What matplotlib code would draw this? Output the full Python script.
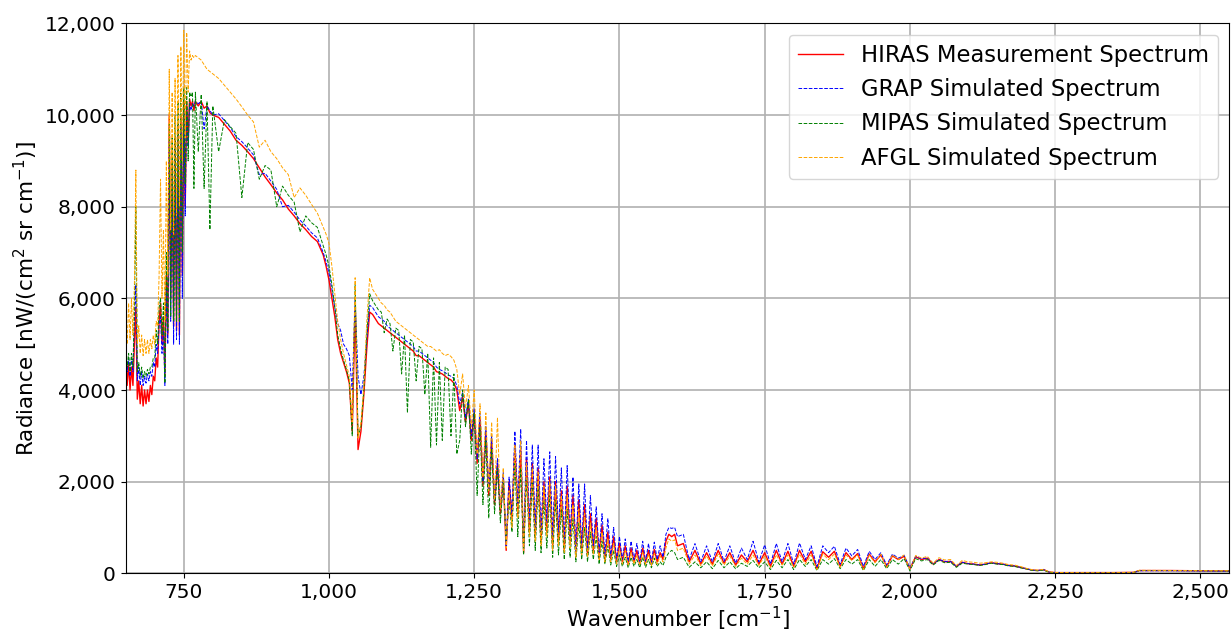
import numpy as np
import matplotlib
matplotlib.use('Agg')
import matplotlib.pyplot as plt
from matplotlib.ticker import FuncFormatter

# wavenumber grid [cm-1] (finer where the spectrum is busy)
wavenumber = np.concatenate([np.arange(650, 770.1, 2.5), np.arange(775, 801, 5),
                             np.arange(810, 991, 10),
                             np.arange(995, 1301, 5), np.arange(1305, 1601, 5),
                             np.arange(1610, 2251, 10),
                             [2300, 2350, 2385, 2395, 2450, 2500, 2550]])

# radiance values [nW/(cm2 sr cm-1)]
hiras = [
    # 650-800
    4700, 4100, 4600, 4000, 4500, 4100, 5000, 5800, 3800, 4200, 3700, 4100, 3650, 4000, 3700, 4000,
    3750, 4100, 3900, 4300, 4200, 4700, 4500, 5500, 5900, 5000, 5600, 4300, 6500, 5200, 10000, 6000,
    9000, 5400, 9500, 5300, 9800, 5200, 10000, 6500, 10300, 8000, 10300, 9400, 10350, 10200, 10300, 10100,
    10300, 10200, 10300, 10150, 10200, 10050, 10000,
    # 810-990
    9950, 9800, 9650, 9450, 9340, 9200, 9050, 8850, 8650, 8480, 8300, 8150, 7950, 7800, 7630, 7500,
    7350, 7240, 6950,
    # 995-1300
    6700, 6400, 6000, 5600, 5100, 4800, 4600, 4400, 4150, 3100, 5800, 2700, 3100, 3900, 4900, 5700,
    5650, 5550, 5450, 5400, 5350, 5300, 5250, 5200, 5150, 5100, 5050, 5000, 4950, 4900, 4850, 4750,
    4750, 4700, 4650, 4600, 4550, 4500, 4400, 4380, 4350, 4300, 4250, 4220, 4150, 4000, 3550, 3850,
    3300, 3700, 2900, 3500, 2400, 3400, 1900, 3100, 1700, 2900, 1500, 2400, 1300, 2100,
    # 1305-1600
    500, 2000, 1200, 2800, 1300, 2700, 450, 2500, 900, 2400, 800, 2300, 700, 2000, 900, 2100,
    600, 2000, 700, 1800, 500, 1900, 700, 1700, 450, 1600, 500, 1500, 400, 1300, 500, 1200,
    350, 1050, 300, 900, 300, 800, 250, 650, 250, 600, 200, 550, 250, 500, 200, 550,
    220, 500, 200, 520, 250, 450, 300, 700, 850, 800, 850, 600,
    # 1610-2250
    650, 250, 500, 200, 450, 200, 500, 220, 450, 180, 400, 250, 500, 200, 450, 150,
    500, 200, 480, 150, 500, 250, 480, 100, 470, 350, 480, 150, 450, 300, 430, 100,
    420, 250, 400, 150, 380, 300, 370, 100, 360, 300, 330, 200, 300, 250, 260, 150,
    240, 210, 200, 180, 200, 230, 210, 200, 170, 160, 130, 100, 70, 60, 80, 25, 15,
    # 2300-2550
    15, 15, 20, 60, 60, 55, 50]

grap = [
    4800, 4400, 4700, 4300, 4700, 4400, 5500, 6300, 4200, 4500, 4100, 4400, 4100, 4300, 4150, 4350,
    4200, 4400, 4300, 4600, 4500, 5000, 4800, 5400, 5600, 4800, 5300, 4100, 6200, 5000, 9500, 5500,
    8800, 5000, 9300, 5100, 9600, 5000, 9800, 6000, 10100, 7800, 10200, 9300, 10250, 10100, 10250, 10200,
    10300, 10250, 10300, 9700, 10200, 10100, 10000,
    10030, 9880, 9730, 9530, 9420, 9280, 9130, 8700, 8730, 8560, 8380, 8000, 8030, 7880, 7710, 7580,
    7430, 7320, 7000,
    6800, 6550, 6200, 5800, 5450, 5300, 5000, 4900, 4750, 4000, 6000, 4300, 3900, 4300, 5100, 5850,
    5800, 5700, 5600, 5550, 5500, 5400, 5350, 5300, 5250, 5200, 5150, 5100, 5050, 5000, 4950, 4850,
    4850, 4800, 4750, 4700, 4650, 4600, 4500, 4450, 4420, 4380, 4330, 4300, 4250, 4100, 3700, 3950,
    3400, 3800, 3000, 3600, 2500, 3500, 2000, 3200, 1800, 3000, 1600, 2500, 1400, 2200,
    600, 2100, 1300, 3100, 1500, 3150, 600, 2900, 1100, 2800, 1000, 2800, 900, 2500, 1100, 2650,
    800, 2550, 900, 2300, 700, 2350, 800, 2100, 500, 1950, 600, 1950, 500, 1700, 600, 1450,
    450, 1300, 400, 1200, 350, 1000, 300, 800, 300, 750, 250, 700, 300, 650, 250, 700,
    260, 650, 240, 680, 300, 600, 350, 850, 1000, 980, 1000, 800,
    850, 300, 650, 250, 600, 250, 650, 260, 600, 220, 550, 300, 700, 250, 620, 200,
    650, 250, 650, 200, 660, 300, 600, 150, 600, 450, 590, 200, 550, 380, 520, 150,
    480, 300, 450, 180, 420, 330, 390, 120, 370, 310, 340, 210, 300, 260, 260, 150,
    240, 210, 200, 180, 200, 230, 210, 200, 170, 160, 130, 100, 70, 60, 80, 25, 15,
    10, 10, 15, 55, 55, 50, 45]

mipas = [
    4900, 4500, 4800, 4400, 4800, 4500, 5800, 8000, 4400, 4600, 4300, 4500, 4250, 4400, 4300, 4450,
    4350, 4500, 4500, 4700, 4700, 5300, 5000, 5800, 6000, 5200, 5900, 4150, 7000, 5300, 9800, 5600,
    9500, 5500, 10000, 5500, 10300, 5500, 10500, 7000, 10600, 8500, 10600, 9000, 10500, 10400, 10500, 8400,
    10500, 9200, 10450, 8400, 10300, 7500, 10200,
    9200, 9900, 9750, 9600, 8200, 9400, 9250, 8600, 8900, 8800, 8000, 8450, 8250, 8100, 7450, 7800,
    7650, 7550, 7150,
    6950, 6700, 6300, 5800, 5200, 4900, 4650, 4450, 4200, 3000, 6300, 3000, 3200, 4000, 5200, 6100,
    5950, 5850, 5750, 5700, 5250, 5550, 5450, 4850, 5350, 5300, 4350, 5200, 3500, 5100, 5050, 4200,
    4950, 4900, 3900, 4800, 2750, 4700, 2800, 4600, 2900, 4500, 4450, 3000, 4350, 2600, 2900, 4000,
    3200, 3800, 2600, 3500, 1700, 3200, 1500, 2900, 1200, 2700, 1300, 2300, 1100, 2000,
    700, 1600, 900, 2400, 800, 2300, 400, 2100, 600, 2000, 500, 1900, 450, 1600, 550, 1700,
    350, 1600, 400, 1400, 300, 1400, 350, 1200, 250, 1100, 300, 1000, 250, 900, 300, 800,
    200, 700, 200, 600, 180, 500, 150, 400, 150, 350, 120, 350, 150, 300, 120, 350,
    130, 300, 120, 330, 150, 250, 170, 350, 450, 500, 450, 300,
    350, 130, 250, 120, 250, 100, 280, 120, 250, 100, 220, 150, 280, 120, 250, 80,
    280, 120, 300, 80, 300, 150, 300, 60, 300, 200, 320, 100, 300, 200, 300, 60,
    300, 150, 300, 100, 300, 200, 320, 60, 320, 270, 300, 180, 280, 230, 240, 130,
    220, 200, 190, 170, 190, 220, 200, 190, 160, 150, 120, 95, 65, 55, 70, 20, 12,
    12, 12, 18, 60, 58, 55, 50]

afgl = [
    6000, 5000, 5900, 5100, 6000, 5200, 6300, 8800, 5000, 5400, 4800, 5200, 4750, 5100, 4800, 5100,
    4800, 5100, 4900, 5200, 5000, 5500, 5400, 6500, 8600, 6000, 7500, 5500, 9000, 6500, 11000, 7500,
    10500, 7400, 10800, 7800, 11300, 8000, 11500, 9000, 11850, 9500, 11800, 10500, 11400, 11200, 11300, 11250,
    11300, 11250, 11200, 11100, 11000, 10950, 10900,
    10800, 10650, 10500, 10350, 10180, 10000, 9850, 9300, 9450, 9200, 9050, 8850, 8700, 8200, 8410, 8250,
    8050, 7860, 7550,
    7400, 7200, 6700, 6100, 5500, 5100, 4800, 4550, 4300, 3300, 6450, 2950, 3300, 4100, 5500, 6450,
    6200, 6100, 6000, 5900, 5850, 5750, 5700, 5600, 5500, 5450, 5400, 5350, 5300, 5250, 5200, 5150,
    5100, 5050, 5000, 4950, 4950, 4900, 4850, 4880, 4800, 4750, 4780, 4730, 4650, 4450, 3900, 4350,
    3600, 4100, 3200, 4000, 2600, 3700, 2100, 3500, 1800, 3300, 1600, 3400, 1400, 2300,
    550, 1800, 1000, 2800, 1200, 2900, 500, 2400, 800, 2300, 700, 2200, 600, 1900, 800, 2000,
    500, 1900, 600, 1700, 450, 1700, 550, 1500, 350, 1400, 400, 1300, 350, 1100, 400, 1000,
    300, 900, 250, 750, 250, 650, 200, 550, 200, 500, 180, 450, 200, 400, 180, 450,
    190, 420, 170, 430, 200, 380, 250, 550, 750, 700, 730, 500,
    550, 200, 400, 170, 380, 160, 420, 180, 380, 150, 330, 200, 400, 170, 380, 120,
    400, 180, 400, 130, 420, 200, 400, 80, 420, 300, 420, 130, 400, 280, 400, 80,
    400, 230, 420, 130, 400, 300, 400, 90, 390, 330, 370, 220, 340, 290, 300, 170,
    280, 250, 240, 220, 230, 250, 240, 220, 190, 180, 150, 110, 80, 70, 85, 30, 18,
    15, 15, 20, 65, 62, 58, 55]

fig = plt.figure(figsize=(12.31, 6.32), dpi=100)
ax = fig.add_axes([0.1021, 0.0929, 0.8966, 0.870])

ax.plot(wavenumber, hiras, color='red', lw=1.0, label='HIRAS Measurement Spectrum')
ax.plot(wavenumber, grap, color='blue', lw=0.7, ls='--', label='GRAP Simulated Spectrum')
ax.plot(wavenumber, mipas, color='green', lw=0.7, ls='--', label='MIPAS Simulated Spectrum')
ax.plot(wavenumber, afgl, color='orange', lw=0.7, ls='--', label='AFGL Simulated Spectrum')

ax.set_xlim(650, 2550)
ax.set_ylim(0, 12000)
ax.set_xticks([750, 1000, 1250, 1500, 1750, 2000, 2250, 2500])
ax.set_yticks(np.arange(0, 12001, 2000))
comma = FuncFormatter(lambda v, p: '{:,.0f}'.format(v))
ax.xaxis.set_major_formatter(comma)
ax.yaxis.set_major_formatter(comma)
ax.tick_params(labelsize=14.5)
ax.grid(True, color='#b0b0b0', lw=1.2)

ax.set_xlabel('Wavenumber [cm$^{-1}$]', fontsize=15.5, labelpad=2)
ax.set_ylabel('Radiance [nW/(cm$^2$ sr cm$^{-1}$)]', fontsize=15.5)
ax.legend(loc='upper right', fontsize=16.3)

fig.savefig('out.png', dpi=100)
